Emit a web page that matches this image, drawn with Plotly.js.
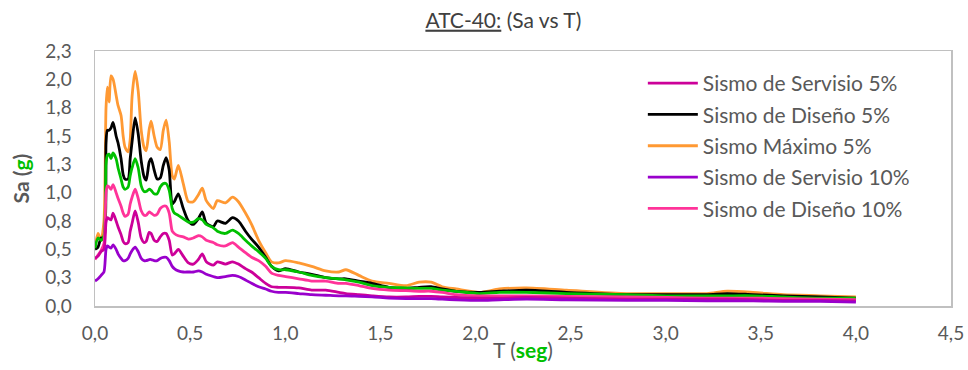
<!DOCTYPE html>
<html>
<head>
<meta charset="utf-8">
<script src="https://cdn.plot.ly/plotly-3.0.1.min.js"></script>
<style>html,body{margin:0;padding:0;background:#fff;}#chart{width:968px;height:370px;}</style>
</head>
<body>
<div id="chart"></div>
<script>
// Period T (seg)
const periodT = [0, 0.016, 0.032, 0.047, 0.058, 0.065, 0.074, 0.084, 0.095, 0.111,
  0.121, 0.137, 0.148, 0.158, 0.174, 0.185, 0.195, 0.211, 0.227, 0.243,
  0.258, 0.269, 0.285, 0.295, 0.311, 0.327, 0.343, 0.359, 0.374, 0.390,
  0.406, 0.417, 0.438, 0.464, 0.491, 0.517, 0.543, 0.564, 0.585, 0.622,
  0.643, 0.686, 0.723, 0.754, 0.791, 0.823, 0.860, 0.897, 0.928, 0.965,
  1.002, 1.071, 1.139, 1.213, 1.282, 1.319, 1.387, 1.456, 1.545, 1.635,
  1.704, 1.767, 1.825, 1.899, 2.020, 2.126, 2.268, 2.479, 2.795, 3.006,
  3.217, 3.323, 3.460, 3.618, 3.813, 4.0];

const servisio5 = [0.42, 0.44, 0.48, 0.50, 0.74, 0.78, 0.77, 0.76, 0.82, 0.75,
  0.70, 0.63, 0.57, 0.55, 0.56, 0.66, 0.73, 0.84, 0.74, 0.60,
  0.56, 0.57, 0.65, 0.64, 0.58, 0.57, 0.61, 0.64, 0.64, 0.58,
  0.45, 0.46, 0.50, 0.44, 0.38, 0.37, 0.41, 0.46, 0.39, 0.36,
  0.39, 0.37, 0.39, 0.37, 0.33, 0.30, 0.25, 0.20, 0.17, 0.165,
  0.165, 0.16, 0.14, 0.14, 0.12, 0.11, 0.10, 0.09, 0.08, 0.08,
  0.085, 0.085, 0.08, 0.075, 0.07, 0.07, 0.075, 0.07, 0.06, 0.06,
  0.06, 0.06, 0.055, 0.05, 0.05, 0.045];

const diseno5 = [0.50, 0.52, 0.60, 0.60, 1.44, 1.55, 1.55, 1.57, 1.62, 1.50,
  1.44, 1.30, 1.16, 1.12, 1.12, 1.30, 1.45, 1.66, 1.52, 1.28,
  1.14, 1.11, 1.27, 1.30, 1.20, 1.12, 1.13, 1.24, 1.31, 1.20,
  0.90, 0.92, 0.99, 0.86, 0.75, 0.72, 0.77, 0.83, 0.73, 0.70,
  0.75, 0.73, 0.78, 0.75, 0.66, 0.59, 0.52, 0.43, 0.35, 0.31,
  0.33, 0.30, 0.28, 0.25, 0.24, 0.24, 0.22, 0.20, 0.165, 0.155,
  0.165, 0.17, 0.15, 0.13, 0.12, 0.13, 0.14, 0.12, 0.10, 0.10,
  0.10, 0.11, 0.10, 0.09, 0.08, 0.07];

const maximo5 = [0.52, 0.64, 0.58, 0.75, 1.75, 1.93, 1.80, 2.03, 2.00, 1.86,
  1.77, 1.68, 1.50, 1.40, 1.36, 1.47, 1.85, 2.07, 1.90, 1.55,
  1.40, 1.37, 1.56, 1.63, 1.50, 1.40, 1.38, 1.55, 1.64, 1.45,
  1.15, 1.12, 1.24, 1.08, 0.92, 0.92, 0.98, 1.04, 0.93, 0.86,
  0.93, 0.91, 0.96, 0.92, 0.82, 0.72, 0.58, 0.47, 0.39, 0.38,
  0.40, 0.38, 0.35, 0.31, 0.30, 0.32, 0.27, 0.22, 0.20, 0.18,
  0.21, 0.21, 0.17, 0.15, 0.12, 0.15, 0.16, 0.14, 0.11, 0.11,
  0.11, 0.13, 0.12, 0.10, 0.09, 0.08];

const servisio10 = [0.22, 0.24, 0.27, 0.30, 0.50, 0.53, 0.52, 0.51, 0.54, 0.50,
  0.46, 0.42, 0.40, 0.40, 0.42, 0.46, 0.49, 0.52, 0.48, 0.42,
  0.40, 0.40, 0.41, 0.41, 0.40, 0.40, 0.42, 0.43, 0.43, 0.40,
  0.35, 0.33, 0.31, 0.30, 0.30, 0.30, 0.31, 0.30, 0.28, 0.26,
  0.25, 0.26, 0.27, 0.26, 0.23, 0.20, 0.17, 0.15, 0.13, 0.12,
  0.12, 0.11, 0.10, 0.095, 0.09, 0.09, 0.085, 0.08, 0.07, 0.065,
  0.065, 0.065, 0.06, 0.055, 0.05, 0.055, 0.06, 0.055, 0.05, 0.05,
  0.045, 0.045, 0.045, 0.04, 0.04, 0.035];

const diseno10 = [0.41, 0.45, 0.49, 0.55, 1.00, 1.06, 1.05, 1.03, 1.07, 1.00,
  0.95, 0.88, 0.82, 0.79, 0.81, 0.90, 0.96, 1.03, 0.95, 0.84,
  0.80, 0.80, 0.83, 0.82, 0.80, 0.81, 0.86, 0.88, 0.88, 0.82,
  0.66, 0.64, 0.62, 0.61, 0.59, 0.60, 0.62, 0.61, 0.58, 0.56,
  0.54, 0.53, 0.56, 0.52, 0.47, 0.43, 0.40, 0.35, 0.29, 0.27,
  0.26, 0.24, 0.22, 0.22, 0.20, 0.20, 0.18, 0.155, 0.14, 0.135,
  0.13, 0.13, 0.12, 0.10, 0.09, 0.09, 0.09, 0.085, 0.08, 0.075,
  0.07, 0.07, 0.07, 0.065, 0.06, 0.055];

const maximo10 = [0.51, 0.60, 0.58, 0.62, 1.25, 1.33, 1.34, 1.30, 1.35, 1.30,
  1.22, 1.12, 1.05, 1.03, 1.05, 1.15, 1.22, 1.30, 1.22, 1.06,
  1.01, 1.01, 1.03, 1.02, 0.99, 0.99, 1.05, 1.08, 1.08, 1.02,
  0.86, 0.82, 0.80, 0.77, 0.74, 0.74, 0.77, 0.76, 0.72, 0.69,
  0.66, 0.64, 0.67, 0.64, 0.58, 0.53, 0.48, 0.42, 0.35, 0.32,
  0.32, 0.30, 0.27, 0.25, 0.24, 0.23, 0.21, 0.18, 0.165, 0.16,
  0.155, 0.155, 0.14, 0.13, 0.11, 0.12, 0.12, 0.11, 0.10, 0.09,
  0.09, 0.09, 0.09, 0.08, 0.07, 0.07];

const xTickVals = [0, 0.5, 1, 1.5, 2, 2.5, 3, 3.5, 4, 4.5];
const xTickText = ['0,0', '0,5', '1,0', '1,5', '2,0', '2,5', '3,0', '3,5', '4,0', '4,5'];
const yTickVals = [0, 0.25, 0.5, 0.75, 1, 1.25, 1.5, 1.75, 2, 2.25];
const yTickText = ['0,0', '0,3', '0,5', '0,8', '1,0', '1,3', '1,5', '1,8', '2,0', '2,3'];

const FONT = 'Lato, "Open Sans", sans-serif';
function mk(name, y, color, show, order) {
  return {
    x: periodT, y: y, name: name, type: 'scatter', mode: 'lines',
    line: {color: color, width: 2.8, shape: 'spline', smoothing: 0.7},
    showlegend: show, legendrank: order, legendgroup: 'g' + order,
    hoverinfo: 'skip'
  };
}
const traces = [
  mk('Sismo Máximo 5%', maximo5, '#ff9933', true, 3),
  mk('Sismo de Diseño 5%', diseno5, '#000000', true, 2),
  mk('Sismo Máximo 10%', maximo10, '#00c000', false, 6),
  mk('Sismo de Diseño 10%', diseno10, '#ff3399', true, 5),
  mk('Sismo de Servisio 5%', servisio5, '#cc0099', true, 1),
  mk('Sismo de Servisio 10%', servisio10, '#9900cc', true, 4)
];

const layout = {
  width: 968, height: 370,
  margin: {l: 95, r: 17, t: 51, b: 64},
  paper_bgcolor: '#ffffff', plot_bgcolor: '#ffffff',
  font: {family: FONT, color: '#595959', size: 19},
  title: {
    text: '<u>ATC-40:</u> (Sa vs T)',
    font: {family: FONT, size: 21, color: '#404040'},
    x: 0.52, xanchor: 'center', xref: 'container',
    y: 0.945, yanchor: 'middle', yref: 'container'
  },
  xaxis: {
    range: [0, 4.5], tickvals: xTickVals, ticktext: xTickText,
    showgrid: false, zeroline: false, ticks: '',
    showline: true, mirror: true, linecolor: '#c0c0c0', linewidth: 1.5,
    ticklabelstandoff: 10,
    tickfont: {family: FONT, size: 19, color: '#595959'},
    title: {text: 'T (<span style="color:#00c000"><b>seg</b></span>)', font: {family: FONT, size: 21, color: '#595959'}, standoff: 0}
  },
  yaxis: {
    range: [0, 2.25], tickvals: yTickVals, ticktext: yTickText,
    showgrid: false, zeroline: false, ticks: '',
    showline: true, mirror: true, linecolor: '#c0c0c0', linewidth: 1.5,
    ticklabelstandoff: 18,
    tickfont: {family: FONT, size: 19, color: '#595959'},
    title: {text: '<b>Sa (<span style="color:#00c000">g</span>)</b>', font: {family: FONT, size: 21, color: '#595959'}, standoff: 10}
  },
  legend: {
    x: 0.64, xanchor: 'left', y: 0.953, yanchor: 'top',
    bgcolor: 'rgba(0,0,0,0)', borderwidth: 0,
    font: {family: FONT, size: 21, color: '#595959'},
    traceorder: 'grouped', tracegroupgap: 1, itemwidth: 50
  },
  showlegend: true
};

Plotly.newPlot('chart', traces, layout, {displayModeBar: false, staticPlot: true});
</script>
</body>
</html>
